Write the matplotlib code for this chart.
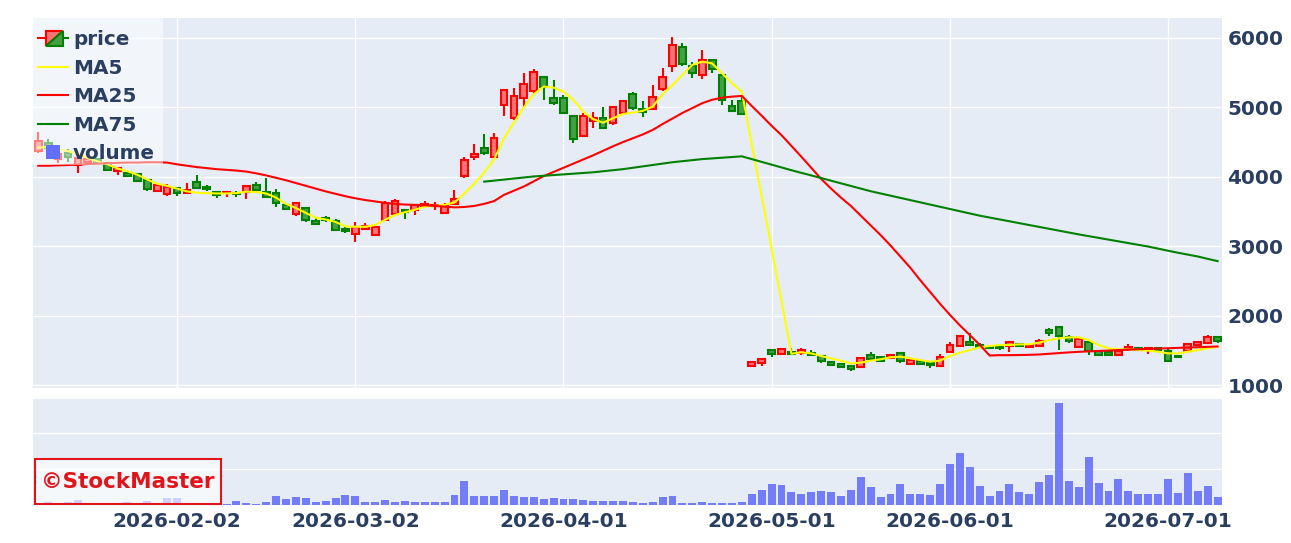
import numpy as np
import pandas as pd
import matplotlib
matplotlib.use("Agg")
import matplotlib.pyplot as plt
from matplotlib.patches import Rectangle, Polygon, Patch
from matplotlib.lines import Line2D
from matplotlib.legend_handler import HandlerBase

plt.rcParams["font.family"] = ["DejaVu Sans"]
plt.rcParams["font.weight"] = "bold"

# dias de pregão (Tóquio), sem feriados
feriados = ["2026-02-11", "2026-02-23", "2026-03-20", "2026-04-29",
            "2026-05-04", "2026-05-05", "2026-05-06"]
dias = pd.bdate_range("2026-01-13", "2026-07-08")
dias = dias[~dias.isin(pd.to_datetime(feriados))]

datas_ticks = ["2026-02-02", "2026-03-02", "2026-04-01",
               "2026-05-01", "2026-06-01", "2026-07-01"]

abertura = [4370, 4480, 4250, 4350, 4170, 4220, 4250, 4200, 4080, 4050,
            4035, 3950, 3790, 3745, 3840, 3765, 3930, 3855, 3785, 3765,
            3770, 3775, 3880, 3785, 3760, 3595, 3460, 3545, 3370, 3410,
            3365, 3250, 3175, 3250, 3165, 3380, 3460, 3520, 3525, 3585,
            3580, 3475, 3605, 4010, 4285, 4410, 4290, 5035, 4845, 5130,
            5230, 5440, 5130, 5130, 4875, 4590, 4800, 4840, 4770, 4925,
            5190, 4970, 4975, 5260, 5600, 5875, 5590, 5470, 5680, 5465,
            5020, 5095, 1275, 1315, 1505, 1450, 1480, 1455, 1460, 1420,
            1325, 1300, 1275, 1255, 1430, 1410, 1385, 1465, 1305, 1340,
            1320, 1275, 1480, 1555, 1625, 1575, 1545, 1555, 1555, 1590,
            1545, 1565, 1795, 1830, 1690, 1545, 1625, 1495, 1475, 1435,
            1515, 1530, 1515, 1530, 1495, 1420, 1495, 1580, 1610, 1685]
maxima = [4640, 4550, 4430, 4400, 4290, 4290, 4270, 4210, 4130, 4070,
          4040, 3960, 3890, 3890, 3860, 3905, 4030, 3880, 3800, 3795,
          3790, 3880, 3920, 3980, 3830, 3620, 3630, 3570, 3400, 3440,
          3390, 3280, 3355, 3330, 3290, 3650, 3680, 3540, 3600, 3650,
          3640, 3620, 3810, 4290, 4470, 4615, 4625, 5260, 5275, 5500,
          5550, 5450, 5395, 5180, 4880, 4915, 4940, 5010, 5010, 5110,
          5225, 5095, 5325, 5565, 6020, 5935, 5660, 5825, 5695, 5490,
          5105, 5180, 1350, 1375, 1510, 1535, 1530, 1530, 1505, 1435,
          1330, 1310, 1280, 1400, 1480, 1420, 1445, 1475, 1365, 1360,
          1335, 1445, 1625, 1720, 1755, 1600, 1560, 1565, 1635, 1610,
          1590, 1660, 1815, 1850, 1720, 1675, 1650, 1500, 1505, 1500,
          1590, 1545, 1545, 1545, 1515, 1425, 1600, 1640, 1720, 1695]
minimas = [4350, 4400, 4200, 4210, 4050, 4200, 4190, 4090, 4030, 3990,
           3935, 3800, 3780, 3730, 3730, 3760, 3830, 3790, 3690, 3710,
           3715, 3680, 3760, 3710, 3570, 3520, 3440, 3355, 3305, 3355,
           3220, 3185, 3065, 3235, 3150, 3360, 3440, 3390, 3450, 3580,
           3520, 3460, 3590, 3980, 4240, 4310, 4265, 4870, 4820, 5010,
           5200, 5100, 5035, 4905, 4490, 4570, 4710, 4685, 4745, 4915,
           4965, 4860, 4965, 5240, 5515, 5600, 5420, 5405, 5490, 5035,
           4935, 4890, 1255, 1275, 1410, 1440, 1430, 1430, 1420, 1320,
           1285, 1240, 1205, 1240, 1360, 1345, 1380, 1320, 1300, 1290,
           1240, 1265, 1475, 1545, 1555, 1530, 1520, 1505, 1480, 1545,
           1540, 1555, 1705, 1505, 1600, 1535, 1430, 1430, 1430, 1430,
           1495, 1495, 1445, 1500, 1335, 1395, 1480, 1570, 1600, 1600]
fechamento = [4520, 4420, 4330, 4290, 4270, 4260, 4200, 4100, 4120, 4010,
              3945, 3830, 3880, 3860, 3770, 3815, 3845, 3825, 3735, 3785,
              3755, 3865, 3810, 3715, 3620, 3540, 3620, 3380, 3325, 3380,
              3235, 3220, 3280, 3295, 3280, 3620, 3650, 3490, 3595, 3615,
              3600, 3585, 3680, 4240, 4335, 4340, 4555, 5250, 5170, 5335,
              5515, 5300, 5060, 4915, 4540, 4875, 4840, 4700, 5000, 5095,
              4990, 4940, 5155, 5435, 5900, 5620, 5490, 5685, 5550, 5100,
              4955, 4905, 1335, 1370, 1450, 1525, 1450, 1505, 1430, 1340,
              1290, 1265, 1235, 1385, 1370, 1350, 1435, 1340, 1360, 1305,
              1290, 1410, 1575, 1705, 1570, 1545, 1530, 1530, 1625, 1555,
              1575, 1640, 1745, 1700, 1640, 1660, 1495, 1435, 1435, 1495,
              1550, 1505, 1530, 1510, 1350, 1400, 1590, 1625, 1695, 1640]

ma5 = [4420, 4430, 4400, 4370, 4330, 4270, 4220, 4180, 4120, 4080,
       4030, 3960, 3900, 3870, 3830, 3790, 3770, 3765, 3760, 3760,
       3765, 3786, 3780, 3760, 3700, 3610, 3550, 3480, 3410, 3385,
       3350, 3285, 3280, 3280, 3305, 3380, 3450, 3490, 3525, 3570,
       3580, 3595, 3630, 3760, 3900, 4060, 4250, 4560, 4780, 5000,
       5190, 5300, 5285, 5227, 5107, 4939, 4830, 4780, 4843, 4905,
       4925, 4950, 5010, 5193, 5323, 5467, 5611, 5660, 5635, 5491,
       5347, 5227, 4470, 3720, 2970, 2210, 1450, 1471, 1456, 1418,
       1384, 1351, 1312, 1322, 1351, 1370, 1399, 1408, 1384, 1360,
       1336, 1351, 1418, 1466, 1504, 1543, 1562, 1576, 1576, 1586,
       1586, 1610, 1648, 1672, 1687, 1687, 1648, 1576, 1528, 1514,
       1514, 1504, 1495, 1480, 1456, 1456, 1480, 1504, 1528, 1552]
ma25 = [4160, 4160, 4165, 4170, 4175, 4185, 4190, 4195, 4200, 4205,
        4205, 4210, 4210, 4205, 4180, 4160, 4140, 4125, 4110, 4100,
        4090, 4075, 4050, 4020, 3985, 3950, 3910, 3870, 3830, 3790,
        3755, 3720, 3690, 3665, 3645, 3625, 3610, 3600, 3595, 3590,
        3580, 3570, 3560, 3565, 3580, 3610, 3650, 3740, 3800, 3860,
        3935, 4010, 4070, 4130, 4190, 4250, 4310, 4375, 4440, 4500,
        4555, 4610, 4675, 4760, 4840, 4920, 4990, 5060, 5110, 5140,
        5155, 5165, 5020, 4880, 4735, 4600, 4445, 4290, 4130, 3970,
        3830, 3700, 3580, 3440, 3300, 3160, 3010, 2850, 2690, 2510,
        2340, 2170, 2010, 1860, 1720, 1580, 1425, 1430, 1430, 1432,
        1435, 1440, 1450, 1460, 1470, 1478, 1485, 1490, 1497, 1503,
        1510, 1515, 1520, 1525, 1530, 1535, 1540, 1545, 1550, 1555]
ma75 = [None] * 45 + [
    3930, 3945, 3960, 3975, 3990, 4005, 4015, 4025, 4035, 4045,
    4055, 4065, 4080, 4095, 4110, 4130, 4150, 4170, 4190, 4210,
    4225, 4240, 4255, 4265, 4275, 4285, 4295, 4255, 4215, 4175,
    4135, 4095, 4057, 4020, 3982, 3944, 3906, 3868, 3830, 3792,
    3760, 3728, 3696, 3664, 3632, 3600, 3568, 3536, 3504, 3472,
    3440, 3413, 3386, 3359, 3332, 3305, 3278, 3251, 3224, 3197,
    3170, 3145, 3120, 3095, 3070, 3045, 3020, 2995, 2965, 2935,
    2906, 2879, 2852, 2818, 2785]

# volume em milhões de ações
volume = [0.05, 0.09, 0.05, 0.09, 0.14, 0.04, 0.04, 0.05, 0.06, 0.08,
          0.05, 0.12, 0.05, 0.19, 0.19, 0.04, 0.04, 0.03, 0.03, 0.04,
          0.11, 0.06, 0.04, 0.07, 0.24, 0.17, 0.22, 0.20, 0.08, 0.11,
          0.19, 0.29, 0.25, 0.08, 0.08, 0.13, 0.08, 0.10, 0.07, 0.08,
          0.07, 0.08, 0.29, 0.67, 0.25, 0.26, 0.25, 0.42, 0.26, 0.22,
          0.22, 0.16, 0.19, 0.17, 0.18, 0.14, 0.12, 0.11, 0.11, 0.10,
          0.09, 0.06, 0.09, 0.22, 0.26, 0.06, 0.06, 0.09, 0.06, 0.06,
          0.06, 0.08, 0.30, 0.42, 0.59, 0.56, 0.36, 0.30, 0.36, 0.39,
          0.36, 0.26, 0.42, 0.78, 0.50, 0.21, 0.30, 0.57, 0.30, 0.30,
          0.28, 0.59, 1.15, 1.44, 1.06, 0.53, 0.26, 0.38, 0.59, 0.36,
          0.30, 0.64, 0.83, 2.82, 0.67, 0.51, 1.34, 0.62, 0.40, 0.73,
          0.40, 0.30, 0.30, 0.31, 0.71, 0.33, 0.89, 0.38, 0.52, 0.22]

FUNDO = "#E5ECF6"
TEXTO = "#2a3f5f"
VERM, VERM_F = "#ff0000", "#f87474"
VERDE, VERDE_F = "#008000", "#45a045"
AZUL = "#636efa"
W, H = 1291, 543


class IconeVela(HandlerBase):
    def create_artists(self, legend, orig, xd, yd, w, h, fs, trans):
        x0, y0 = -xd, -yd
        cy = y0 + h / 2
        b0, b1 = x0 + w * 0.27, x0 + w * 0.83
        v0, v1 = y0 - h * 0.05, y0 + h * 1.0
        l1 = Line2D([x0, b0], [cy, cy], color=VERM, lw=1.5, transform=trans)
        l2 = Line2D([b1, x0 + w], [cy, cy], color=VERDE, lw=1.5, transform=trans)
        t1 = Polygon([(b0, v0), (b0, v1), (b1, v1)], closed=True, fc=VERM_F,
                     ec=VERM, lw=1.5, transform=trans)
        t2 = Polygon([(b0, v0), (b1, v0), (b1, v1)], closed=True, fc=VERDE_F,
                     ec=VERDE, lw=1.5, transform=trans)
        return [l1, l2, t1, t2]


class IconeQuadrado(HandlerBase):
    def create_artists(self, legend, orig, xd, yd, w, h, fs, trans):
        lado = h * 1.0
        cx, cy = -xd + w * 0.5, -yd + h / 2
        q = Rectangle((cx - lado / 2, cy - lado / 2), lado, lado, fc=AZUL,
                      ec="none", transform=trans)
        return [q]


o = np.array(abertura, float)
hi = np.array(maxima, float)
lo = np.array(minimas, float)
c = np.array(fechamento, float)
x = np.arange(len(dias))
sobe = c >= o

fig = plt.figure(figsize=(W / 100, H / 100), dpi=100)
ax = fig.add_axes([33 / W, 1 - 388 / H, 1189 / W, 370 / H])
axv = fig.add_axes([33 / W, 1 - 505 / H, 1189 / W, 106 / H], sharex=ax)

for a in (ax, axv):
    a.set_facecolor(FUNDO)
    for s in a.spines.values():
        s.set_visible(False)
    a.set_axisbelow(True)

# velas
cor_borda = np.where(sobe, VERM, VERDE)
cor_corpo = np.where(sobe, VERM_F, VERDE_F)
ax.vlines(x, lo, hi, colors=cor_borda, lw=1.5, zorder=2)
ax.bar(x, np.maximum(np.abs(c - o), 1), bottom=np.minimum(o, c), width=0.68,
       color=cor_corpo, edgecolor=cor_borda, linewidth=1.5, zorder=3)

ma75_arr = np.array([np.nan if v is None else v for v in ma75], float)
ax.plot(x, ma5, color="#ffff00", lw=1.5, zorder=4)
ax.plot(x, ma25, color=VERM, lw=1.5, zorder=4)
ax.plot(x, ma75_arr, color=VERDE, lw=1.5, zorder=4)

ax.set_xlim(-0.53, 119.45)
ax.set_ylim(957, 6288)
ax.set_yticks([1000, 2000, 3000, 4000, 5000, 6000])
ax.yaxis.tick_right()
ax.tick_params(axis="y", length=0, pad=4, labelsize=14.4, labelcolor=TEXTO)
ax.tick_params(axis="x", length=0, labelbottom=False)
ax.grid(color="white", lw=1.0)

pos_ticks = [dias.get_loc(pd.Timestamp(d)) for d in datas_ticks]
ax.set_xticks(pos_ticks)

# volume
axv.bar(x, volume, width=0.8, color=AZUL, alpha=0.88, zorder=2)
axv.set_ylim(0, 2.944)
axv.set_yticks([1, 2])
axv.tick_params(axis="y", length=0, labelleft=False, labelright=False)
axv.grid(axis="y", color="white", lw=1.0)
axv.grid(axis="x", visible=False)
axv.set_xticks(pos_ticks)
axv.set_xticklabels(datas_ticks)
axv.tick_params(axis="x", length=0, pad=5, labelsize=14.4, labelcolor=TEXTO)

# legenda: fundo branco translúcido + entradas
ax.add_patch(Rectangle((0, 1 - 147 / 370), 130 / 1189, 147 / 370,
                       transform=ax.transAxes, fc="white", alpha=0.5,
                       ec="none", zorder=9))
alca_preco = Patch()
alca_vol = Patch()
alcas = [alca_preco, Line2D([], [], color="#ffff00", lw=1.5),
         Line2D([], [], color=VERM, lw=1.5), Line2D([], [], color=VERDE, lw=1.5),
         alca_vol]
nomes = ["price", "MA5", "MA25", "MA75", "volume"]
leg = ax.legend(alcas, nomes, loc="upper left",
                bbox_to_anchor=(5 / 1189, 1 - 12 / 370),
                borderaxespad=0, borderpad=0, labelspacing=0.48,
                handlelength=1.5, handleheight=0.7, handletextpad=0.25,
                fontsize=14.4, frameon=False,
                handler_map={alca_preco: IconeVela(), alca_vol: IconeQuadrado()})
leg.set_zorder(10)
for t in leg.get_texts():
    t.set_color(TEXTO)

# marca d'água
fig.add_artist(Rectangle((35 / W, 1 - 504 / H), 186 / W, 45 / H,
                         transform=fig.transFigure, fc="white", alpha=0.65,
                         ec="none", zorder=5))
fig.add_artist(Rectangle((35 / W, 1 - 504 / H), 186 / W, 45 / H,
                         transform=fig.transFigure, fc="none",
                         ec="#e3131b", lw=1.5, zorder=6))
fig.text(128 / W, 1 - 481.5 / H, "©StockMaster", color="#e3131b",
         fontsize=15.5, fontweight="bold", ha="center", va="center", zorder=7)

fig.savefig("out.png", dpi=100, facecolor="white")
